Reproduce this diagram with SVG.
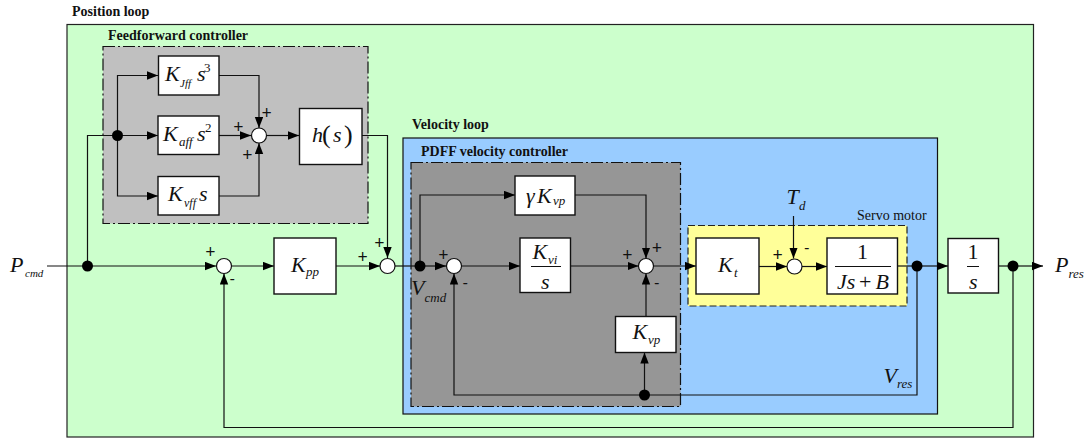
<svg xmlns="http://www.w3.org/2000/svg" width="1087" height="439" viewBox="0 0 1087 439">
<style>
text{font-family:"Liberation Serif","Times New Roman",serif;fill:#111}
.h{font-size:14px;font-weight:bold}
.v{font-style:italic;font-size:22px}
.n{font-size:22px}
.sb{font-style:italic;font-size:13px}
.s11{font-size:11px}
.s12{font-size:12px}
.up{font-style:normal;font-size:13px}
.par{font-style:normal;font-size:26px}
.p{font-size:18px;font-weight:bold;text-anchor:middle}
.m{font-size:15px;font-weight:bold;text-anchor:middle}
.box{fill:#fff;stroke:#111;stroke-width:1.4}
.sum{fill:#fff;stroke:#111;stroke-width:1.2}
.dot{fill:#000}
.w{fill:none;stroke:#111;stroke-width:1.2}
.a{marker-end:url(#ah)}
.frac{stroke:#111;stroke-width:1;fill:none}
</style>
<defs><marker id="ah" markerUnits="userSpaceOnUse" markerWidth="12" markerHeight="9" refX="11" refY="4.200" orient="auto"><path d="M0 0L11 4.200L0 8.400Z" fill="#000"/></marker></defs>
<g id="position-loop">
<rect x="67" y="24.500" width="966.500" height="412.500" fill="#ccffcc" stroke="#222" stroke-width="1.200"/>
<text class="h" x="72" y="16">Position loop</text>
</g>
<g id="feedforward-controller">
<rect x="103" y="46.500" width="265" height="177" fill="#c0c0c0" stroke="#111" stroke-width="1.200" stroke-dasharray="12 3 2 3"/>
<text class="h" x="108" y="40">Feedforward controller</text>
</g>
<g id="velocity-loop">
<rect x="403" y="138" width="534.500" height="276" fill="#99ccff" stroke="#111" stroke-width="1.200"/>
<text class="h" x="412" y="129">Velocity loop</text>
<text class="h" x="421" y="156">PDFF velocity controller</text>
</g>
<g id="pdff-velocity-controller">
<rect x="411" y="162.500" width="269.500" height="244" fill="#969696" stroke="#111" stroke-width="1.200" stroke-dasharray="12 3 2 3"/>
</g>
<g id="servo-motor">
<rect x="688" y="225.500" width="219" height="80.500" fill="#ffff99" stroke="#222" stroke-width="1.200" stroke-dasharray="7 3"/>
<text x="857" y="220" style="font-size:14px">Servo motor</text>
</g>
<g id="connectors">
<path class="w" d="M47 266H87.500"/>
<path class="w a" d="M87.500 266H216"/>
<path class="w" d="M87.500 266V135.500H117.500"/>
<path class="w a" d="M117.500 135.500V75.500H158"/>
<path class="w a" d="M117.500 135.500H158"/>
<path class="w a" d="M117.500 135.500V196H158"/>
<path class="w a" d="M219 75.500H259V128"/>
<path class="w a" d="M219 135.500H251"/>
<path class="w a" d="M219 196H259V143"/>
<path class="w a" d="M267 135.500H299"/>
<path class="w a" d="M362 135.500H387.500V258"/>
<path class="w a" d="M231.500 266H274"/>
<path class="w a" d="M336 266H380"/>
<path class="w" d="M395 266H420"/>
<path class="w a" d="M420 266H446"/>
<path class="w a" d="M420 266V195H515"/>
<path class="w a" d="M461.500 266H520"/>
<path class="w a" d="M570.500 266H638.500"/>
<path class="w a" d="M575 195H646V258.500"/>
<path class="w a" d="M646 316.500V273.500"/>
<path class="w a" d="M644.500 395V352.500"/>
<path class="w a" d="M653.500 266H696"/>
<path class="w a" d="M759 266.500H787"/>
<path class="w a" d="M793.500 216V258.500"/>
<path class="w a" d="M802 266.500H827"/>
<path class="w" d="M897.500 266H917"/>
<path class="w a" d="M917 266H948"/>
<path class="w" d="M998.500 266H1013"/>
<path class="w a" d="M1013 266H1043"/>
<path class="w a" d="M917 266V395H454V273.500"/>
<path class="w a" d="M1013 266V427.500H224V273.500"/>
<circle class="dot" cx="87.500" cy="266" r="5.500"/>
<circle class="dot" cx="117.500" cy="135.500" r="5.500"/>
<circle class="dot" cx="420" cy="266" r="5.500"/>
<circle class="dot" cx="644.500" cy="395" r="5.500"/>
<circle class="dot" cx="917" cy="266" r="5.500"/>
<circle class="dot" cx="1013" cy="266" r="5.500"/>
</g>
<g id="sum-ff"><circle class="sum" cx="259" cy="135.500" r="7.500"/><text class="p" x="238.300" y="133">+</text><text class="p" x="266.700" y="119.300">+</text><text class="p" x="247.300" y="161">+</text></g>
<g id="sum-pos"><circle class="sum" cx="224" cy="266" r="7.500"/><text class="p" x="210.300" y="258.300">+</text><text class="m" x="232.300" y="283">-</text></g>
<g id="sum-vel-in"><circle class="sum" cx="387.500" cy="266" r="7.500"/><text class="p" x="362.700" y="263.300">+</text><text class="p" x="379.300" y="249.300">+</text></g>
<g id="sum-vi"><circle class="sum" cx="454" cy="266" r="7.500"/><text class="p" x="443.300" y="261.300">+</text><text class="m" x="465.300" y="286.500">-</text></g>
<g id="sum-pdff"><circle class="sum" cx="646" cy="266" r="7.500"/><text class="p" x="627.300" y="261.300">+</text><text class="p" x="657" y="254.300">+</text><text class="m" x="656.700" y="287">-</text></g>
<g id="sum-motor"><circle class="sum" cx="794.500" cy="266.500" r="7.500"/><text class="p" x="777.700" y="261">+</text><text class="m" x="806.700" y="252">-</text></g>
<g id="kjff"><rect class="box" x="158.500" y="56" width="60.500" height="39"/><text class="v" x="165" y="81">K<tspan class="sb s11" x="180" y="87">Jff</tspan><tspan x="197" y="81">s</tspan><tspan class="up" x="204" y="72">3</tspan></text></g>
<g id="kaff"><rect class="box" x="158" y="116" width="61" height="38.500"/><text class="v" x="163" y="141">K<tspan class="sb" x="179" y="146">aff</tspan><tspan x="197" y="141">s</tspan><tspan class="up" x="205" y="132">2</tspan></text></g>
<g id="kvff"><rect class="box" x="158" y="176.500" width="61" height="38.500"/><text class="v" x="168" y="201">K<tspan class="sb s12" x="184" y="207">vff</tspan><tspan x="199" y="201">s</tspan></text></g>
<g id="hs"><rect class="box" x="299.500" y="108.500" width="62.500" height="56"/><text class="v" x="312" y="142">h<tspan class="par" x="322" y="143">(</tspan><tspan x="333" y="142">s</tspan><tspan class="par" x="344" y="143">)</tspan></text></g>
<g id="kpp"><rect class="box" x="274" y="238" width="62" height="56"/><text class="v" x="291" y="272">K<tspan class="sb" x="306" y="276">pp</tspan></text></g>
<g id="gkvp"><rect class="box" x="515" y="176" width="60" height="39"/><text class="v" x="526" y="203">γ<tspan x="537">K</tspan><tspan class="sb" x="553" y="205">vp</tspan></text></g>
<g id="kvi-s"><rect class="box" x="520" y="238" width="50.500" height="54.500"/><text class="v" x="532.500" y="259">K<tspan class="sb" x="548" y="264">vi</tspan></text><path class="frac" d="M531 266.500H561"/><text class="v" x="541" y="289">s</text></g>
<g id="kvp"><rect class="box" x="615.500" y="316.500" width="60.500" height="36"/><text class="v" x="632.500" y="339">K<tspan class="sb" x="648" y="344">vp</tspan></text></g>
<g id="kt"><rect class="box" x="696" y="238" width="63" height="56"/><text class="v" x="718" y="272">K<tspan class="sb" x="734" y="277">t</tspan></text></g>
<g id="plant"><rect class="box" x="827" y="238" width="70.500" height="56"/><text class="n" x="862.500" y="259" text-anchor="middle">1</text><path class="frac" d="M835 266.500H891"/><text class="v" x="837" y="289">Js<tspan style="font-style:normal" x="859">+</tspan><tspan x="875.500">B</tspan></text></g>
<g id="integrator"><rect class="box" x="948" y="238.500" width="50.500" height="54.500"/><text class="n" x="973" y="259" text-anchor="middle">1</text><path class="frac" d="M967 266.500H979"/><text class="v" x="969" y="289">s</text></g>
<g id="labels">
<text class="v" x="10" y="272">P<tspan class="sb s11" x="25" y="277">cmd</tspan></text>
<text class="v" x="1055" y="272">P<tspan class="sb" x="1068.500" y="278">res</tspan></text>
<text class="v" x="411" y="295">V<tspan class="sb" x="424.500" y="302">cmd</tspan></text>
<text class="v" x="786.500" y="204">T<tspan class="sb" x="799" y="210">d</tspan></text>
<text class="v" x="883.500" y="383">V<tspan class="sb" x="897" y="388">res</tspan></text>
</g>
</svg>
